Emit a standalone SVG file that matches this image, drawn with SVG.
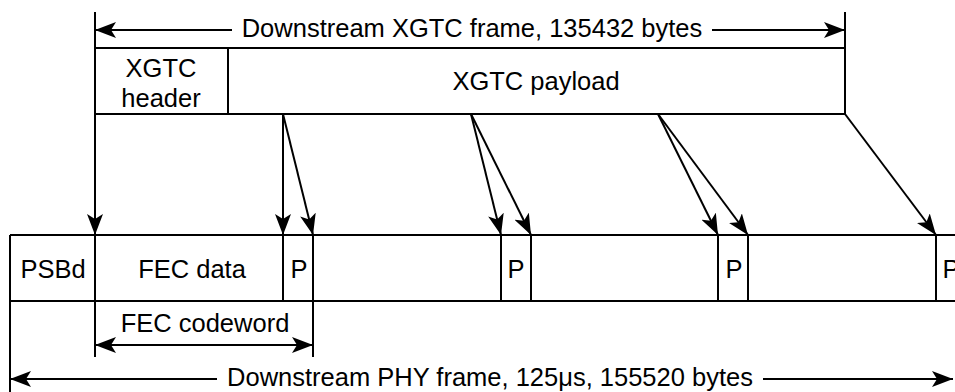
<svg xmlns="http://www.w3.org/2000/svg" width="955" height="392" viewBox="0 0 955 392">
<style>
.ln{stroke:#000;stroke-width:2;fill:none}
.bx{stroke:#000;stroke-width:2;fill:#fff}
.t{font-family:"Liberation Sans",Arial,sans-serif;font-size:25.5px;fill:#000;text-anchor:middle}
.a{marker-end:url(#ah)}
.d{marker-start:url(#ah);marker-end:url(#ah)}
</style>
<defs>
<marker id="ah" markerUnits="userSpaceOnUse" markerWidth="21" markerHeight="16" refX="21" refY="8" orient="auto-start-reverse" viewBox="0 0 21 16">
<path d="M0,0 L21,8 L0,16 L5,8 z" fill="#000"/>
</marker>
</defs>
<rect width="955" height="392" fill="#fff"/>
<g id="xgtc-frame-dimension">
<line class="ln" x1="95" y1="12" x2="95" y2="48"/>
<line class="ln" x1="845" y1="12" x2="845" y2="48"/>
<line class="ln" x1="232" y1="30" x2="95" y2="30" style="marker-end:url(#ah)"/>
<line class="ln a" x1="712" y1="30" x2="845" y2="30"/>
<text class="t" x="472" y="37">Downstream XGTC frame, 135432 bytes</text>
</g>
<g id="xgtc-header">
<rect class="bx" x="95" y="48" width="133" height="66"/>
<text class="t" x="161" y="77">XGTC</text>
<text class="t" x="161" y="107">header</text>
</g>
<g id="xgtc-payload">
<rect class="bx" x="228" y="48" width="617" height="66"/>
<text class="t" x="536" y="90">XGTC payload</text>
</g>
<g id="phy-frame">
<line class="ln" x1="10" y1="235" x2="955" y2="235"/>
<line class="ln" x1="10" y1="301" x2="955" y2="301"/>
<line class="ln" x1="10" y1="235" x2="10" y2="392"/>
</g>
<g id="psbd">
<text class="t" x="53" y="278">PSBd</text>
</g>
<g id="fec-data">
<line class="ln" x1="95" y1="235" x2="95" y2="301"/>
<text class="t" x="192" y="278">FEC data</text>
</g>
<g id="p1">
<line class="ln" x1="283" y1="235" x2="283" y2="301"/>
<line class="ln" x1="313" y1="235" x2="313" y2="301"/>
<text class="t" x="299" y="278">P</text>
</g>
<g id="p2">
<line class="ln" x1="501" y1="235" x2="501" y2="301"/>
<line class="ln" x1="531" y1="235" x2="531" y2="301"/>
<text class="t" x="516" y="278">P</text>
</g>
<g id="p3">
<line class="ln" x1="718" y1="235" x2="718" y2="301"/>
<line class="ln" x1="748" y1="235" x2="748" y2="301"/>
<text class="t" x="734" y="278">P</text>
</g>
<g id="p4">
<line class="ln" x1="936" y1="235" x2="936" y2="301"/>
<text class="t" x="951" y="278">P</text>
</g>
<g id="fec-codeword">
<line class="ln" x1="95" y1="301" x2="95" y2="357"/>
<line class="ln" x1="313" y1="301" x2="313" y2="357"/>
<line class="ln d" x1="95" y1="345" x2="313" y2="345"/>
<text class="t" x="205" y="332">FEC codeword</text>
</g>
<g id="phy-frame-dimension">
<line class="ln" x1="217" y1="379" x2="10" y2="379" style="marker-end:url(#ah)"/>
<line class="ln a" x1="763" y1="379" x2="953" y2="379"/>
<text class="t" x="490" y="386">Downstream PHY frame, 125μs, 155520 bytes</text>
</g>
<g id="connectors">
<line class="ln a" x1="95" y1="114" x2="95" y2="235"/>
<line class="ln a" x1="283" y1="114" x2="283" y2="235"/>
<line class="ln a" x1="283" y1="114" x2="313" y2="235"/>
<line class="ln a" x1="471" y1="114" x2="501" y2="235"/>
<line class="ln a" x1="471" y1="114" x2="531" y2="235"/>
<line class="ln a" x1="658" y1="114" x2="718" y2="235"/>
<line class="ln a" x1="658" y1="114" x2="748" y2="235"/>
<line class="ln a" x1="845" y1="114" x2="936" y2="235"/>
</g>
</svg>
